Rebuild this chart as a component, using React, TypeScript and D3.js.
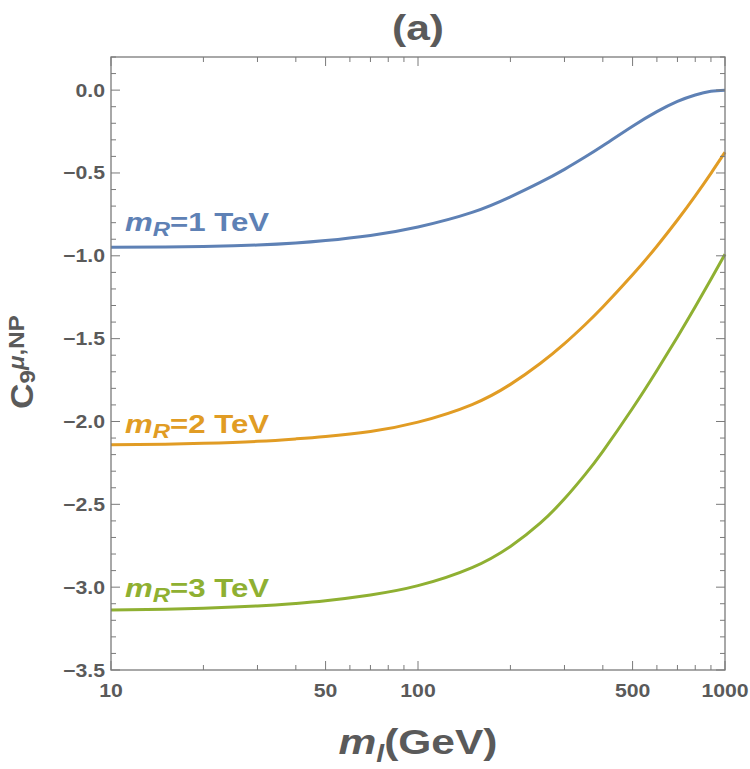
import React from 'react';
import * as d3 from 'd3';

// Lepton-partner mass grid (GeV) and Wilson coefficient C9 for each m_R
const massGeV = [10, 15, 20, 30, 40, 50, 70, 100, 150, 200, 250, 300, 350, 400, 500, 600, 700, 800, 900, 1000];
const c9MR1 = [-0.948, -0.947, -0.944, -0.935, -0.923, -0.908, -0.877, -0.826, -0.738, -0.644, -0.557, -0.478, -0.404, -0.336, -0.218, -0.13, -0.068, -0.029, -0.007, 0.0];
const c9MR2 = [-2.14, -2.137, -2.132, -2.12, -2.105, -2.09, -2.06, -2.004, -1.898, -1.776, -1.65, -1.53, -1.416, -1.309, -1.115, -0.942, -0.784, -0.638, -0.502, -0.375];
const c9MR3 = [-3.138, -3.133, -3.127, -3.113, -3.098, -3.082, -3.047, -2.991, -2.882, -2.754, -2.614, -2.467, -2.321, -2.18, -1.92, -1.692, -1.49, -1.308, -1.142, -0.99];

const seriesLabels = ['1 TeV', '2 TeV', '3 TeV'];
const seriesColors = ['#5E81B5', '#E19C24', '#8FB032'];
// baseline value of each in-plot label (just above its curve)
const labelAnchors = [-0.8525, -2.068, -3.059];

const xMajorTicks = [10, 50, 100, 500, 1000];
const xMinorTicks = [20, 30, 40, 60, 70, 80, 90, 200, 300, 400, 600, 700, 800, 900];
const yMajorTicks = [0, -0.5, -1.0, -1.5, -2.0, -2.5, -3.0, -3.5];

const W = 750;
const H = 769;
const margin = { left: 111, right: 25, top: 57, bottom: 99 };
const frameColor = '#7a7a7a';
const textColor = '#5a5a5a';
const font = '"Liberation Sans", Arial, sans-serif';
const SX = 1.18; // horizontal widening of the text glyphs

export default function App() {
  const x = d3.scaleLog().domain([10, 1000]).range([margin.left, W - margin.right]);
  const y = d3.scaleLinear().domain([-3.5, 0.2]).range([H - margin.bottom, margin.top]);
  const x0 = x.range()[0], x1 = x.range()[1];
  const y0 = y.range()[0], y1 = y.range()[1];

  const line = d3
    .line<[number, number]>()
    .x((d) => x(d[0]))
    .y((d) => y(d[1]))
    .curve(d3.curveNatural);

  const series = [c9MR1, c9MR2, c9MR3];
  const yMinor = d3.range(-35, 3).map((v) => v / 10).filter((v) => !yMajorTicks.some((t) => Math.abs(t - v) < 1e-9));

  const fmtY = (v: number) => (v < 0 ? '\u2212' : '') + Math.abs(v).toFixed(1);

  const tickMajor = 9;
  const tickMinor = 5;

  return (
    <svg width={W} height={H} style={{ position: 'absolute', left: 0, top: 0, background: '#fff' }} fontFamily={font}>
      {/* title */}
      <text transform={`translate(${(x0 + x1) / 2},40) scale(${SX},1)`} textAnchor="middle" fontSize={36} fontWeight="bold" fill={textColor}>
        (a)
      </text>

      {/* curves */}
      <g>
        {series.map((vals, i) => (
          <path
            key={i}
            d={line(massGeV.map((m, j) => [m, vals[j]] as [number, number])) || ''}
            fill="none"
            stroke={seriesColors[i]}
            strokeWidth={3}
          />
        ))}
      </g>

      {/* curve labels */}
      {seriesLabels.map((lab, i) => (
        <text
          key={lab}
          transform={`translate(125,${y(labelAnchors[i])}) scale(1.2,1)`}
          fontSize={26}
          fontWeight="bold"
          fill={seriesColors[i]}
        >
          <tspan fontStyle="italic">m</tspan>
          <tspan fontStyle="italic" fontSize={20} dy={5}>R</tspan>
          <tspan dy={-5}>={lab}</tspan>
        </text>
      ))}

      {/* frame */}
      <rect x={x0} y={y1} width={x1 - x0} height={y0 - y1} fill="none" stroke={frameColor} strokeWidth={1.3} />

      {/* ticks on all four sides */}
      <g stroke={frameColor} strokeWidth={1}>
        {xMajorTicks.map((t) => (
          <g key={'xM' + t}>
            <line x1={x(t)} x2={x(t)} y1={y0} y2={y0 - tickMajor} />
            <line x1={x(t)} x2={x(t)} y1={y1} y2={y1 + tickMajor} />
          </g>
        ))}
        {xMinorTicks.map((t) => (
          <g key={'xm' + t}>
            <line x1={x(t)} x2={x(t)} y1={y0} y2={y0 - tickMinor} />
            <line x1={x(t)} x2={x(t)} y1={y1} y2={y1 + tickMinor} />
          </g>
        ))}
        {yMajorTicks.map((t) => (
          <g key={'yM' + t}>
            <line x1={x0} x2={x0 + tickMajor} y1={y(t)} y2={y(t)} />
            <line x1={x1} x2={x1 - tickMajor} y1={y(t)} y2={y(t)} />
          </g>
        ))}
        {yMinor.map((t) => (
          <g key={'ym' + t}>
            <line x1={x0} x2={x0 + tickMinor} y1={y(t)} y2={y(t)} />
            <line x1={x1} x2={x1 - tickMinor} y1={y(t)} y2={y(t)} />
          </g>
        ))}
      </g>

      {/* tick labels */}
      <g fontSize={18} fontWeight="bold" fill={textColor}>
        {xMajorTicks.map((t) => (
          <text key={'xl' + t} transform={`translate(${x(t)},${y0 + 27}) scale(${SX},1)`} textAnchor="middle">
            {String(t)}
          </text>
        ))}
        {yMajorTicks.map((t) => (
          <text key={'yl' + t} transform={`translate(${x0 - 6},${y(t) + 6.5}) scale(${SX},1)`} textAnchor="end">
            {fmtY(t)}
          </text>
        ))}
      </g>

      {/* x-axis title */}
      <text transform={`translate(${(x0 + x1) / 2},754) scale(${SX},1)`} textAnchor="middle" fontSize={36} fontWeight="bold" fill={textColor}>
        <tspan fontStyle="italic">m</tspan>
        <tspan fontStyle="italic" fontSize={24} dy={8}>l</tspan>
        <tspan dy={-8}>(GeV)</tspan>
      </text>

      {/* y-axis title */}
      <text transform={`translate(33,362) rotate(-90) scale(1.1,1)`} textAnchor="middle" fontSize={32} fontWeight="bold" fill={textColor}>
        <tspan>C</tspan>
        <tspan fontSize={22} dy={2}>9</tspan>
        <tspan fontSize={22} dy={-11} fontStyle="italic">μ</tspan>
        <tspan fontSize={22}>,NP</tspan>
      </text>
    </svg>
  );
}
